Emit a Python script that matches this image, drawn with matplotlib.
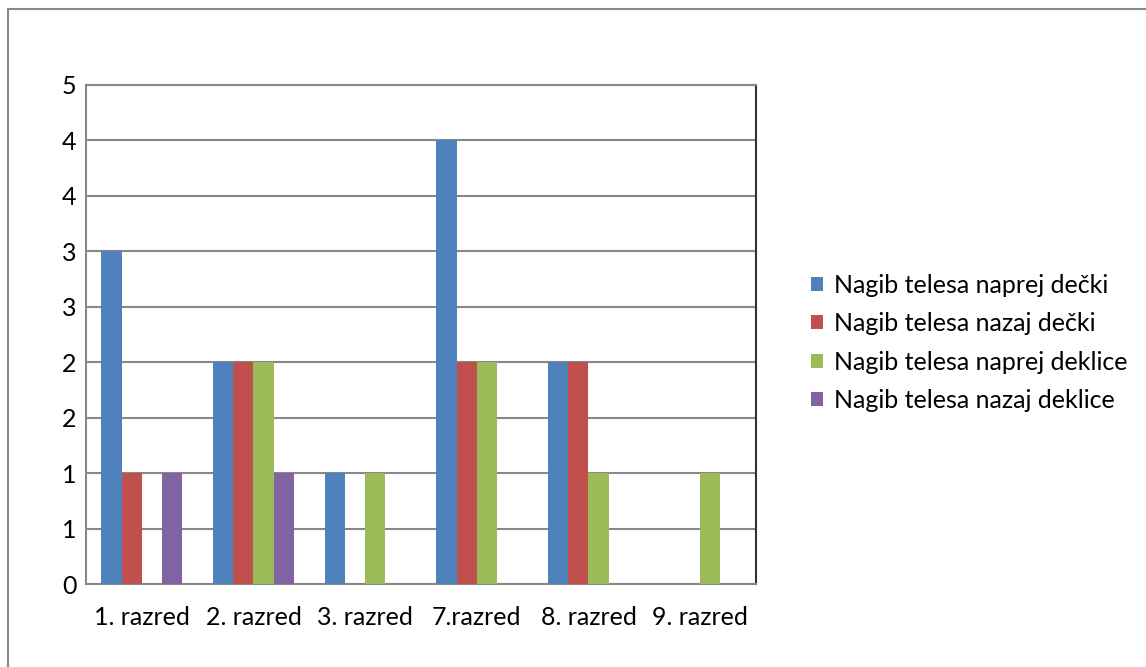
import numpy as np
import matplotlib.pyplot as plt
from matplotlib.lines import Line2D
from matplotlib.ticker import FuncFormatter, MultipleLocator

# Data
razredi = ['1. razred', '2. razred', '3. razred', '7.razred', '8. razred', '9. razred']
naprej_decki = [3, 2, 1, 4, 2, 0]
nazaj_decki = [1, 2, 0, 2, 2, 0]
naprej_deklice = [0, 2, 1, 2, 1, 1]
nazaj_deklice = [1, 1, 0, 0, 0, 0]

series = [
    ('Nagib telesa naprej dečki', naprej_decki, '#4F81BD'),
    ('Nagib telesa nazaj dečki', nazaj_decki, '#C0504D'),
    ('Nagib telesa naprej deklice', naprej_deklice, '#9BBB59'),
    ('Nagib telesa nazaj deklice', nazaj_deklice, '#8064A2'),
]

plt.rcParams['font.family'] = ['Lato', 'DejaVu Sans']

fig = plt.figure(figsize=(11.46, 6.67), dpi=100)
ax = fig.add_axes([86 / 1146, 1 - 584 / 667, (756 - 86) / 1146, (584 - 85) / 667])

# outer chart border (left and top visible)
fig.add_artist(Line2D([8 / 1146, 8 / 1146], [0, 1 - 9 / 667], transform=fig.transFigure,
                      color='#888888', lw=1.5))
fig.add_artist(Line2D([8 / 1146, 1], [1 - 9 / 667, 1 - 9 / 667], transform=fig.transFigure,
                      color='#888888', lw=1.5))

w = 1 / 5.5
x = np.arange(len(razredi)) + 0.5
for i, (name, vals, col) in enumerate(series):
    ax.bar(x + (i - 1.5) * w, vals, width=w, color=col, label=name, zorder=3)

ax.set_xlim(0, len(razredi))
ax.set_ylim(0, 4.5)
ax.yaxis.set_major_locator(MultipleLocator(0.5))
ax.yaxis.set_major_formatter(FuncFormatter(lambda v, p: str(int(np.floor(v + 0.5)))))
ax.grid(axis='y', color='#888888', lw=1.5, zorder=0)
ax.set_xticks(x)
ax.set_xticklabels(razredi)
ax.tick_params(axis='y', length=0, pad=7, labelsize=18)
ax.tick_params(axis='x', length=0, pad=16, labelsize=18)
for s in ax.spines.values():
    s.set_color('#888888')
    s.set_linewidth(1.5)
ax.spines['right'].set_color('#333333')

fig.legend(loc='center left', bbox_to_anchor=(788 / 1146, 1 - 343 / 667), frameon=False,
           fontsize=18, handlelength=0.5, handleheight=0.5, handletextpad=0.45,
           labelspacing=0.62)

fig.savefig('out.png', dpi=100)
